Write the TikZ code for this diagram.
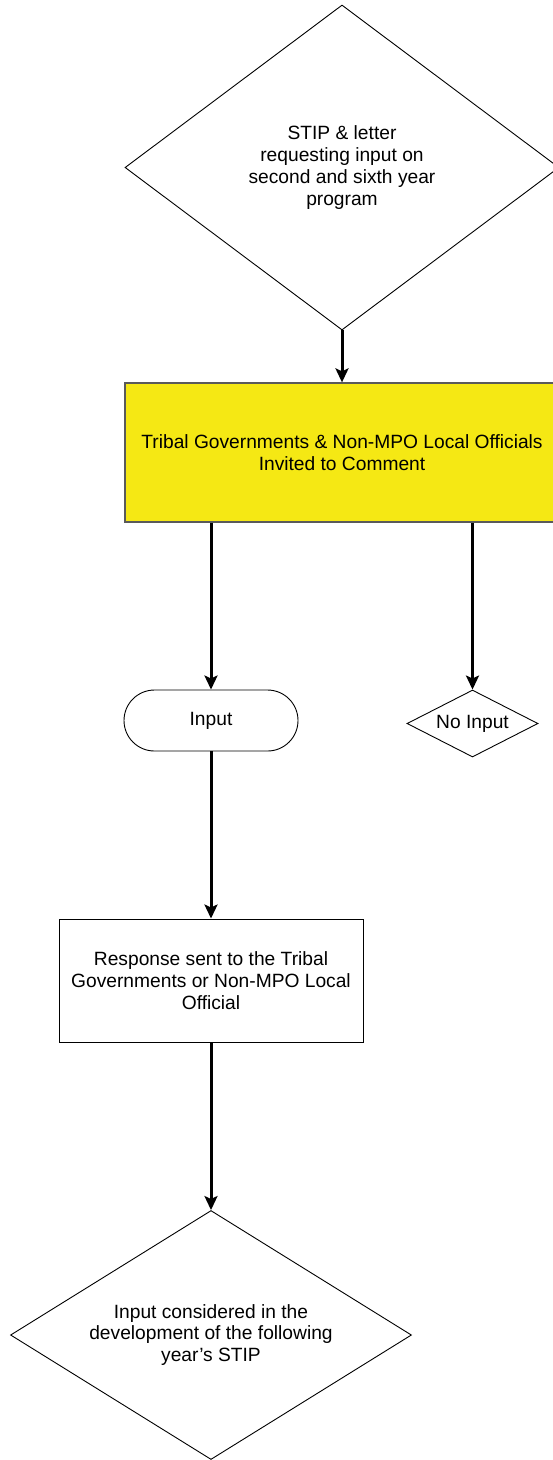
\documentclass[tikz,border=0pt]{standalone}
\usepackage{fontspec}
\setmainfont{Liberation Sans}
\usetikzlibrary{shapes.geometric,arrows.meta}
\definecolor{boxyellow}{RGB}{245,232,20}
\definecolor{edgegray}{RGB}{90,90,90}
\tikzset{
  dia/.style={diamond,draw=black,line width=0.9pt,inner sep=0pt,align=center,font=\fontsize{19.2}{21.7}\selectfont},
  proc/.style={rectangle,draw=black,line width=0.9pt,inner sep=0pt,align=center,font=\fontsize{19.2}{21.7}\selectfont},
  term/.style={rectangle,rounded corners=30.5pt,draw=black,line width=0.9pt,inner sep=0pt,align=center,font=\fontsize{19.2}{21.7}\selectfont},
  arr/.style={line width=3pt,-{Stealth[length=14pt,width=13pt,inset=3pt]}}
}
\begin{document}
\begin{tikzpicture}[x=1pt,y=-1pt]
\useasboundingbox (0,0) rectangle (553,1460);
\node[dia,aspect=1.335,minimum width=434pt,minimum height=325pt] (stip) at (342,167.5)
  {STIP \& letter\\requesting input on\\second and sixth year\\program};
\node[proc,fill=boxyellow,draw=edgegray,line width=1.3pt,minimum width=434pt,minimum height=139pt] (tribal) at (342,452.5)
  {Tribal Governments \& Non-MPO Local Officials\\Invited to Comment};
\node[term,minimum width=174pt,minimum height=61pt] (input) at (211,720.5) {Input};
\node[dia,aspect=1.955,minimum width=131pt,minimum height=67pt] (noinput) at (472.5,723.5) {No Input};
\node[proc,minimum width=304pt,minimum height=123pt] (resp) at (211,980.5)
  {Response sent to the Tribal\\Governments or Non-MPO Local\\Official};
\node[dia,aspect=1.61,minimum width=401pt,minimum height=249pt] (cons) at (211,1335)
  {Input considered in the\\development of the following\\year’s STIP};
\draw[arr] (stip.south) -- (tribal.north);
\draw[arr] (tribal.south -| input.north) -- (input.north);
\draw[arr] (tribal.south -| noinput.north) -- (noinput.north);
\draw[arr] (input.south) -- (resp.north);
\draw[arr] (resp.south) -- (cons.north);
\end{tikzpicture}
\end{document}
